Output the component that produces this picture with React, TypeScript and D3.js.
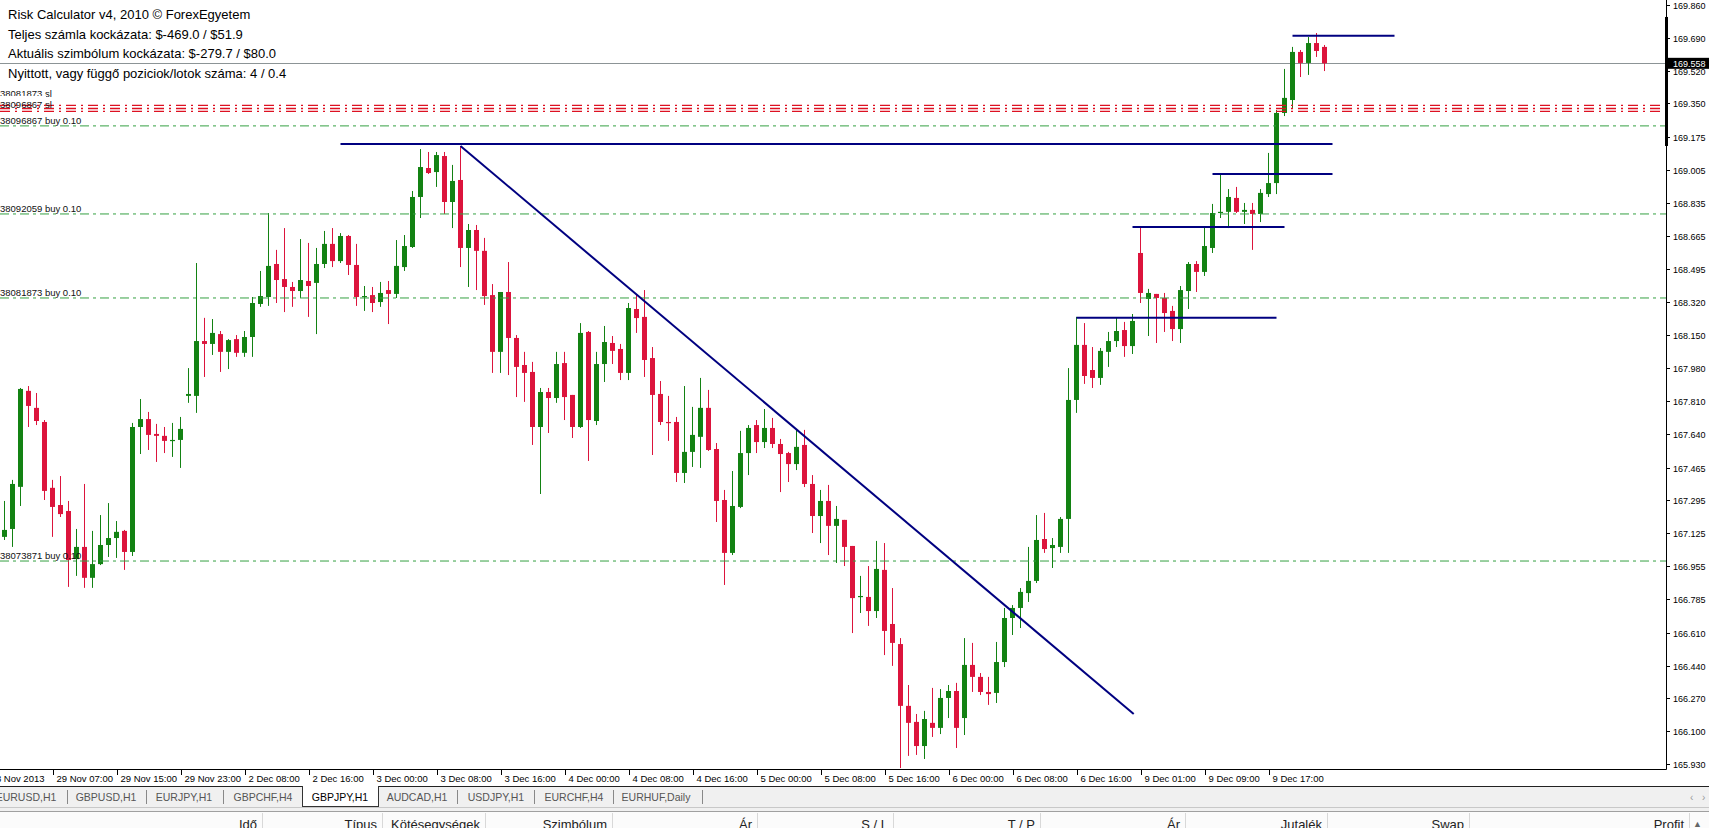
import React from 'react';
import * as d3 from 'd3';

// ---------- DATA ----------
const opens = [
  167.106, 167.147, 167.365, 167.862, 167.774, 167.701, 167.360, 167.271, 167.240, 166.991,
  167.054, 166.894, 166.965, 167.064, 167.100, 167.137, 167.028, 167.675, 167.716, 167.639,
  167.629, 167.603, 167.608, 167.836, 167.836, 168.120, 168.105, 168.156, 168.064, 168.130,
  168.059, 168.141, 168.312, 168.348, 168.519, 168.441, 168.400, 168.379, 168.431, 168.421,
  168.519, 168.623, 168.534, 168.664, 168.514, 168.348, 168.358, 168.322, 168.384, 168.364,
  168.503, 168.607, 168.866, 169.016, 168.995, 169.078, 168.840, 168.954, 168.602, 168.695,
  168.587, 168.358, 168.064, 168.374, 168.136, 167.996, 167.960, 167.675, 167.856, 167.825,
  168.006, 167.841, 167.675, 168.167, 167.706, 168.001, 168.110, 168.079, 167.955, 168.286,
  168.245, 168.032, 167.846, 167.701, 167.701, 167.437, 167.546, 167.624, 167.774, 167.561,
  167.297, 167.023, 167.261, 167.540, 167.685, 167.597, 167.670, 167.587, 167.540, 167.483,
  167.582, 167.380, 167.214, 167.292, 167.163, 167.194, 167.059, 166.795, 166.795, 166.722,
  166.935, 166.655, 166.551, 166.231, 166.148, 166.023, 166.143, 166.117, 166.272, 166.308,
  166.168, 166.443, 166.381, 166.303, 166.298, 166.458, 166.686, 166.738, 166.815, 166.878,
  167.095, 167.048, 167.054, 167.199, 167.815, 168.100, 167.970, 167.929, 168.064, 168.120,
  168.177, 168.094, 168.576, 168.338, 168.364, 168.343, 168.276, 168.182, 168.379, 168.519,
  168.478, 168.602, 168.783, 168.789, 168.861, 168.789, 168.799, 168.778, 168.881, 168.938,
  169.301, 169.368, 169.617, 169.560, 169.663, 169.643,
];
const highs = [
  167.292, 167.401, 167.877, 167.887, 167.851, 167.711, 167.401, 167.421, 167.292, 167.147,
  167.380, 167.137, 167.219, 167.281, 167.188, 167.142, 167.696, 167.820, 167.753, 167.691,
  167.675, 167.696, 167.727, 167.980, 168.524, 168.240, 168.234, 168.172, 168.130, 168.151,
  168.172, 168.348, 168.483, 168.783, 168.592, 168.705, 168.426, 168.648, 168.628, 168.602,
  168.690, 168.705, 168.679, 168.669, 168.623, 168.405, 168.400, 168.426, 168.431, 168.643,
  168.669, 168.897, 169.114, 169.099, 169.099, 169.099, 169.032, 169.130, 168.726, 168.721,
  168.654, 168.415, 168.374, 168.529, 168.151, 168.064, 168.012, 167.877, 167.877, 168.064,
  168.064, 167.841, 168.213, 168.172, 168.064, 168.198, 168.146, 168.105, 168.317, 168.358,
  168.384, 168.089, 167.913, 167.836, 167.727, 167.887, 167.779, 167.929, 167.867, 167.592,
  167.349, 167.447, 167.655, 167.685, 167.711, 167.768, 167.722, 167.613, 167.546, 167.660,
  167.660, 167.426, 167.349, 167.375, 167.266, 167.194, 167.059, 166.904, 166.955, 167.085,
  167.074, 166.841, 166.582, 166.339, 166.189, 166.205, 166.324, 166.318, 166.339, 166.350,
  166.582, 166.557, 166.401, 166.381, 166.562, 166.738, 166.753, 166.841, 167.054, 167.219,
  167.230, 167.100, 167.209, 167.980, 168.245, 168.213, 168.089, 168.084, 168.167, 168.240,
  168.219, 168.260, 168.710, 168.390, 168.364, 168.369, 168.302, 168.405, 168.529, 168.534,
  168.710, 168.830, 168.990, 168.907, 168.918, 168.835, 168.835, 168.907, 169.094, 169.316,
  169.529, 169.643, 169.627, 169.694, 169.715, 169.653,
];
const lows = [
  167.090, 167.054, 167.266, 167.675, 167.685, 167.297, 167.106, 167.209, 166.847, 166.904,
  166.842, 166.842, 166.960, 167.002, 166.997, 166.935, 167.007, 167.535, 167.556, 167.494,
  167.540, 167.520, 167.463, 167.800, 167.748, 167.934, 168.048, 167.960, 167.975, 168.038,
  168.038, 168.038, 168.297, 168.302, 168.317, 168.270, 168.297, 168.343, 168.245, 168.156,
  168.498, 168.503, 168.524, 168.462, 168.302, 168.276, 168.270, 168.297, 168.208, 168.343,
  168.483, 168.602, 168.757, 168.985, 168.918, 168.778, 168.705, 168.503, 168.400, 168.384,
  168.307, 167.955, 167.955, 167.944, 167.830, 167.805, 167.582, 167.328, 167.644, 167.800,
  167.711, 167.618, 167.670, 167.499, 167.685, 167.908, 168.001, 167.918, 167.918, 168.162,
  167.934, 167.530, 167.685, 167.603, 167.390, 167.385, 167.468, 167.463, 167.551, 167.183,
  166.857, 167.012, 167.255, 167.426, 167.540, 167.566, 167.566, 167.338, 167.390, 167.452,
  167.364, 167.126, 167.074, 167.012, 166.971, 166.955, 166.608, 166.712, 166.645, 166.686,
  166.494, 166.438, 165.909, 165.972, 165.977, 165.956, 166.070, 166.085, 166.168, 166.013,
  166.080, 166.303, 166.287, 166.236, 166.246, 166.432, 166.598, 166.634, 166.769, 166.867,
  167.023, 166.945, 167.023, 167.023, 167.748, 167.898, 167.877, 167.893, 167.986, 168.089,
  168.038, 168.053, 168.317, 168.146, 168.110, 168.167, 168.120, 168.110, 168.286, 168.374,
  168.457, 168.576, 168.757, 168.705, 168.783, 168.726, 168.592, 168.736, 168.866, 168.881,
  169.285, 169.327, 169.487, 169.498, 169.591, 169.518,
];
const closes = [
  167.142, 167.380, 167.872, 167.784, 167.706, 167.344, 167.261, 167.224, 166.986, 167.054,
  166.894, 166.965, 167.064, 167.100, 167.132, 167.028, 167.675, 167.716, 167.634, 167.629,
  167.603, 167.608, 167.665, 167.846, 168.120, 168.105, 168.162, 168.064, 168.125, 168.059,
  168.141, 168.317, 168.353, 168.509, 168.436, 168.400, 168.379, 168.436, 168.405, 168.519,
  168.623, 168.534, 168.664, 168.514, 168.348, 168.353, 168.317, 168.369, 168.364, 168.509,
  168.612, 168.866, 169.021, 168.990, 169.083, 168.840, 168.949, 168.602, 168.695, 168.587,
  168.353, 168.064, 168.374, 168.136, 167.986, 167.955, 167.675, 167.856, 167.825, 168.001,
  167.830, 167.675, 168.162, 167.711, 168.001, 168.115, 168.069, 167.955, 168.291, 168.239,
  168.022, 167.841, 167.701, 167.696, 167.437, 167.546, 167.634, 167.774, 167.556, 167.292,
  167.023, 167.266, 167.540, 167.670, 167.597, 167.670, 167.587, 167.535, 167.483, 167.572,
  167.380, 167.214, 167.292, 167.163, 167.199, 167.054, 166.789, 166.800, 166.722, 166.940,
  166.619, 166.557, 166.231, 166.143, 166.023, 166.163, 166.117, 166.272, 166.308, 166.117,
  166.443, 166.381, 166.303, 166.292, 166.458, 166.686, 166.738, 166.821, 166.878, 167.090,
  167.043, 167.064, 167.199, 167.815, 168.100, 167.939, 167.929, 168.069, 168.120, 168.172,
  168.094, 168.224, 168.369, 168.369, 168.343, 168.265, 168.182, 168.384, 168.519, 168.478,
  168.612, 168.783, 168.789, 168.866, 168.789, 168.799, 168.778, 168.887, 168.938, 169.301,
  169.379, 169.617, 169.560, 169.663, 169.622, 169.558,
];

const priceTicks = [
  169.860, 169.690, 169.520, 169.350, 169.175, 169.005, 168.835, 168.665, 168.495, 168.320,
  168.150, 167.980, 167.810, 167.640, 167.465, 167.295, 167.125, 166.955, 166.785, 166.610,
  166.440, 166.270, 166.100, 165.930,
];
const timeLabels = [
  '28 Nov 2013', '29 Nov 07:00', '29 Nov 15:00', '29 Nov 23:00', '2 Dec 08:00', '2 Dec 16:00',
  '3 Dec 00:00', '3 Dec 08:00', '3 Dec 16:00', '4 Dec 00:00', '4 Dec 08:00', '4 Dec 16:00',
  '5 Dec 00:00', '5 Dec 08:00', '5 Dec 16:00', '6 Dec 00:00', '6 Dec 08:00', '6 Dec 16:00',
  '9 Dec 01:00', '9 Dec 09:00', '9 Dec 17:00',
];
const timeLabelBars = [-2, 6, 14, 22, 30, 38, 46, 54, 62, 70, 78, 86, 94, 102, 110, 118, 126, 134, 142, 150, 158];

const currentPrice = 169.558;
const orderTickets = ['38096867', '38092059', '38081873', '38073871'];
const orderOpenPrices = [169.234, 168.778, 168.343, 166.981];
const orderLots = [0.1, 0.1, 0.1, 0.1];
const stopLossPrices = [169.340, 169.324, 169.309];
const slTickets = ['38081873', '38096867'];

// horizontal levels drawn by the user: [fromBar, toBar, price]
const levelFrom = [42, 151, 141, 134, 161];
const levelTo = [166, 166, 160, 159, 173.75];
const levelPrice = [169.140, 168.985, 168.711, 168.241, 169.701];
// trend line
const trendBars = [57, 141.15];
const trendPrices = [169.130, 166.189];

const infoLines = [
  'Risk Calculator v4, 2010 © ForexEgyetem',
  'Teljes számla kockázata: $-469.0 / $51.9',
  'Aktuális szimbólum kockázata: $-279.7 / $80.0',
  'Nyittott, vagy függő poziciok/lotok száma: 4 / 0.4',
];
const tabNames = ['EURUSD,H1', 'GBPUSD,H1', 'EURJPY,H1', 'GBPCHF,H4', 'GBPJPY,H1', 'AUDCAD,H1', 'USDJPY,H1', 'EURCHF,H4', 'EURHUF,Daily'];
const activeTab = 'GBPJPY,H1';
const headerNames = ['Idő', 'Típus', 'Kötésegységek', 'Szimbólum', 'Ár', 'S / L', 'T / P', 'Ár', 'Jutalék', 'Swap', 'Profit'];

// ---------- LAYOUT ----------
const tabCenters = [26, 106, 184, 263, 340, 417, 496, 574, 656];
const tabSeparators = [67, 146, 223, 457, 534, 613, 702];
const headerRight = [257, 377, 480, 607, 752, 888, 1035, 1180, 1322, 1464, 1684];

const FONT = '"Liberation Sans", Arial, sans-serif';
const UP = '#138213';
const DOWN = '#dc143c';
const NAVY = '#000080';
const GREEN_LINE = '#35a043';
const RED_LINE = '#dd1122';

export default function App() {
  const W = 1709;
  const H = 828;
  const plotRight = 1666;
  const plotBottom = 769;

  const xS = d3.scaleLinear().domain([0, 165]).range([4.5, 1324.5]);
  const yS = d3.scaleLinear().domain([165.93, 169.86]).range([764, 5]);

  const trendLine = d3
    .line<number>()
    .x((_, i) => xS(trendBars[i]))
    .y((p) => yS(p))(trendPrices);

  const curY = yS(currentPrice);

  return (
    <svg
      width={W}
      height={H}
      style={{ position: 'absolute', left: 0, top: 0, background: '#fff', fontFamily: FONT }}
    >
      <defs>
        <clipPath id="plot">
          <rect x={0} y={0} width={plotRight} height={plotBottom} />
        </clipPath>
      </defs>
      <rect x={0} y={0} width={W} height={H} fill="#fff" />

      <g clipPath="url(#plot)">
        {/* current price line */}
        <line x1={0} x2={plotRight} y1={Math.round(curY) + 0.5} y2={Math.round(curY) + 0.5} stroke="#8c9496" strokeWidth={1} />

        {/* candles */}
        {opens.map((o, i) => {
          const c = closes[i];
          const up = c >= o;
          const col = up ? UP : DOWN;
          const x = xS(i);
          const yT = yS(Math.max(o, c));
          const yB = yS(Math.min(o, c));
          return (
            <g key={i}>
              <line x1={x} x2={x} y1={yS(highs[i])} y2={yS(lows[i])} stroke={col} strokeWidth={1} />
              <rect x={x - 2.5} y={yT} width={5} height={Math.max(1.2, yB - yT)} fill={col} />
            </g>
          );
        })}

        {/* order open lines */}
        {orderOpenPrices.map((p, i) => (
          <line
            key={'o' + i}
            x1={0}
            x2={plotRight}
            y1={yS(p)}
            y2={yS(p)}
            stroke={GREEN_LINE}
            strokeWidth={1}
            strokeDasharray="9,4,3,4"
          />
        ))}
        {/* stop loss lines */}
        {stopLossPrices.map((p, i) => (
          <line
            key={'s' + i}
            x1={0}
            x2={plotRight - 2}
            y1={yS(p)}
            y2={yS(p)}
            stroke={RED_LINE}
            strokeWidth={1.3}
            strokeDasharray="10,5,2,5"
          />
        ))}

        {/* user levels */}
        {levelPrice.map((p, i) => (
          <line
            key={'l' + i}
            x1={xS(levelFrom[i])}
            x2={xS(levelTo[i])}
            y1={yS(p)}
            y2={yS(p)}
            stroke={NAVY}
            strokeWidth={2}
          />
        ))}
        <path d={trendLine || ''} stroke={NAVY} strokeWidth={2} fill="none" />

        {/* order labels */}
        {orderTickets.map((t, i) => (
          <text key={'t' + i} x={0} y={yS(orderOpenPrices[i]) - 2} fontSize={9.5} fill="#111">
            {`${t} buy ${orderLots[i].toFixed(2)}`}
          </text>
        ))}
        <text x={0} y={yS(stopLossPrices[0]) - 8} fontSize={9.5} fill="#111">
          {`${slTickets[0]} sl`}
        </text>
        <rect x={0} y={yS(stopLossPrices[0]) - 9.5} width={46} height={4.5} fill="#fff" />
        <text x={0} y={yS(stopLossPrices[0]) + 2.5} fontSize={9.5} fill="#111">
          {`${slTickets[1]} sl`}
        </text>

        {/* info text */}
        {infoLines.map((s, i) => (
          <text key={'i' + i} x={8} y={19 + i * 19.7} fontSize={13} fill="#000">
            {s}
          </text>
        ))}
      </g>

      {/* frame */}
      <line x1={0} x2={plotRight + 0.5} y1={plotBottom + 0.5} y2={plotBottom + 0.5} stroke="#000" />
      <line x1={plotRight + 0.5} x2={plotRight + 0.5} y1={0} y2={plotBottom + 0.5} stroke="#000" />
      <rect x={plotRight - 1} y={yS(169.798)} width={3} height={yS(169.13) - yS(169.798)} fill="#000" />

      {/* price axis */}
      {priceTicks.map((p, i) => {
        const y = Math.round(yS(p)) + 0.5;
        return (
          <g key={'p' + i}>
            <line x1={plotRight} x2={plotRight + 4} y1={y} y2={y} stroke="#000" />
            <text x={plotRight + 7} y={y + 3.5} fontSize={9} fill="#000">
              {p.toFixed(3)}
            </text>
          </g>
        );
      })}
      <rect x={plotRight + 1} y={curY - 5.5} width={W - plotRight - 1} height={11} fill="#000" />
      <text x={plotRight + 7} y={curY + 3.5} fontSize={9} fill="#fff">
        {currentPrice.toFixed(3)}
      </text>

      {/* time axis */}
      {timeLabels.map((s, i) => {
        const x = Math.round(xS(timeLabelBars[i])) + 0.5;
        if (i === 0) {
          const xNext = Math.round(xS(timeLabelBars[1])) + 0.5;
          return (
            <text key={'tl' + i} x={xNext - 9} y={782} fontSize={9.5} fill="#000" textAnchor="end">
              {s}
            </text>
          );
        }
        return (
          <g key={'tl' + i}>
            <line x1={x} x2={x} y1={plotBottom + 1} y2={plotBottom + 6} stroke="#000" />
            <text x={x + 3} y={782} fontSize={9.5} fill="#000">
              {s}
            </text>
          </g>
        );
      })}

      {/* tab strip */}
      <rect x={0} y={786} width={W} height={22} fill="#f0f0f0" />
      <line x1={0} x2={W} y1={786.5} y2={786.5} stroke="#222" />
      <line x1={0} x2={W} y1={807.5} y2={807.5} stroke="#c8c8c8" />
      <rect x={302.5} y={786.5} width={76} height={20} fill="#fff" stroke="#333" />
      <line x1={303} x2={378} y1={786.5} y2={786.5} stroke="#fff" />
      {tabNames.map((t, i) => (
        <text
          key={'tab' + i}
          x={tabCenters[i]}
          y={801}
          fontSize={10.5}
          textAnchor="middle"
          fill={t === activeTab ? '#000' : '#555'}
        >
          {t}
        </text>
      ))}
      {tabSeparators.map((x, i) => (
        <line key={'ts' + i} x1={x + 0.5} x2={x + 0.5} y1={790} y2={804} stroke="#888" />
      ))}
      <text x={1690} y={801} fontSize={10} fill="#999">‹</text>
      <text x={1702} y={801} fontSize={10} fill="#999">›</text>

      {/* terminal header */}
      <rect x={0} y={808} width={W} height={4} fill="#f0f0f0" />
      <line x1={0} x2={W} y1={811.5} y2={811.5} stroke="#a0a0a0" />
      <rect x={0} y={812} width={W} height={16} fill="#fbfbfb" />
      {headerNames.map((h, i) => (
        <g key={'h' + i}>
          <text x={headerRight[i]} y={829} fontSize={13} textAnchor="end" fill="#222">
            {h}
          </text>
          <line x1={headerRight[i] + 5.5} x2={headerRight[i] + 5.5} y1={813} y2={828} stroke="#d8d8d8" />
        </g>
      ))}
      <text x={1693} y={827} fontSize={9} fill="#666">▲</text>
    </svg>
  );
}
